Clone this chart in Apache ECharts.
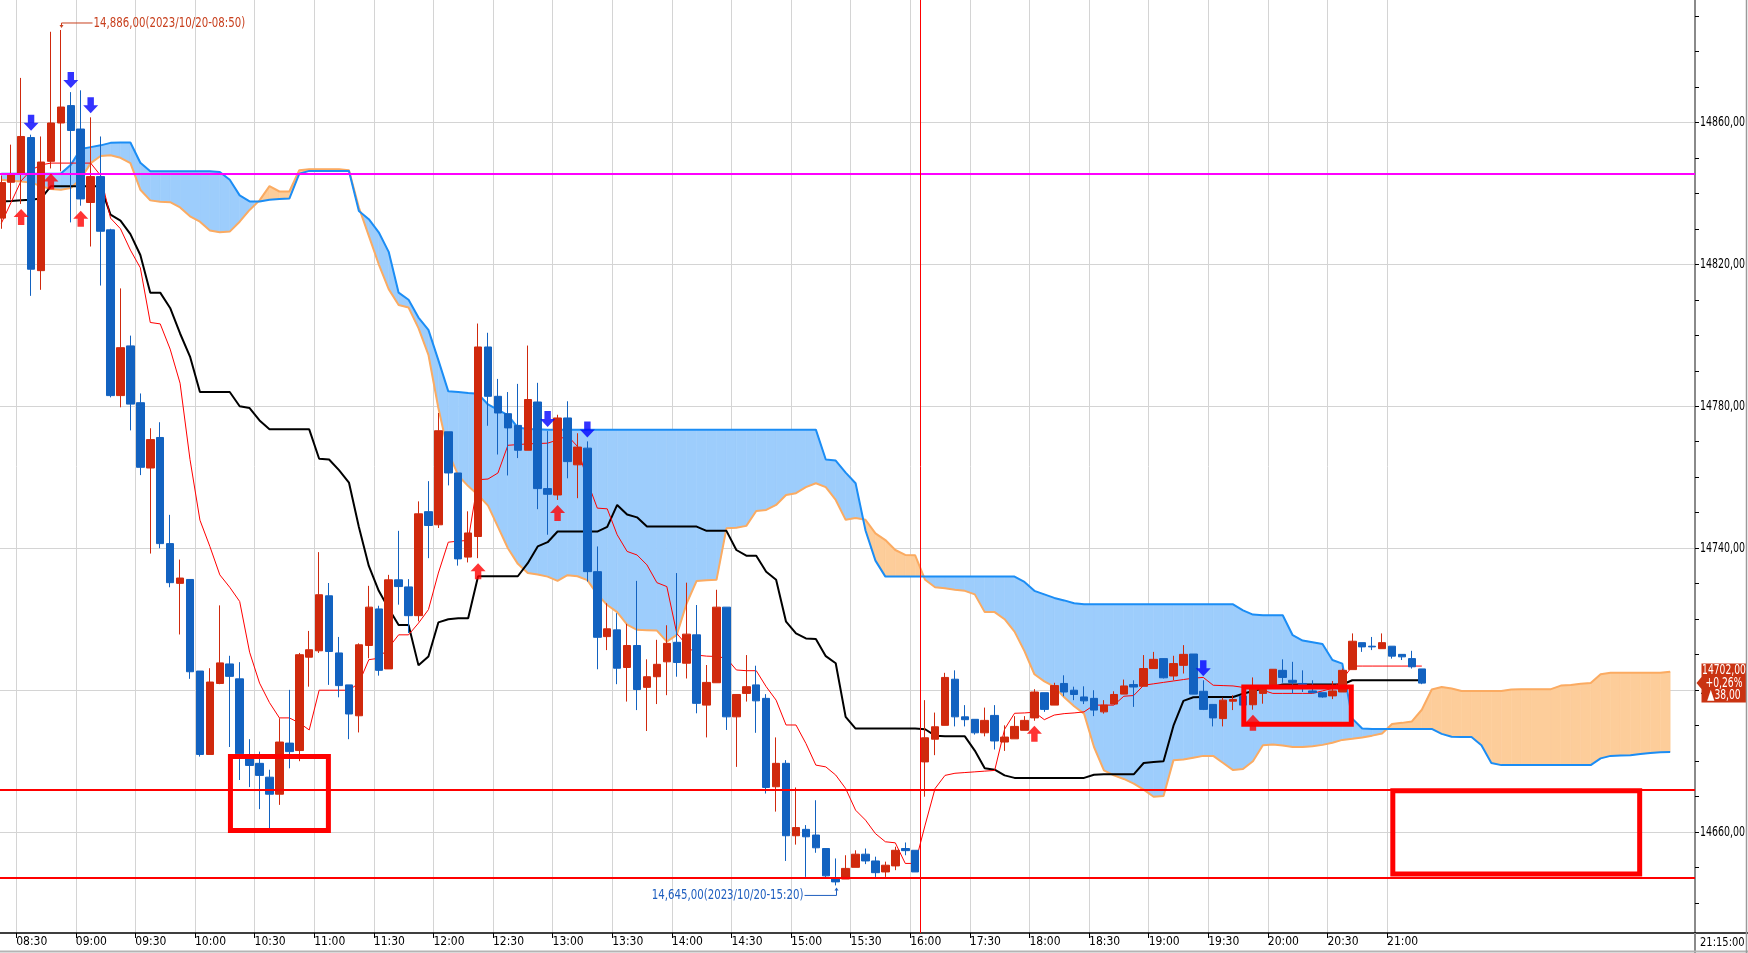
<!DOCTYPE html>
<html>
<head>
<meta charset="utf-8">
<title>Ichimoku 5min</title>
<script src="https://cdn.jsdelivr.net/npm/echarts@6/dist/echarts.min.js"></script>
<style>
    html, body { margin: 0; padding: 0; background: #ffffff; }
    #chart { width: 1748px; height: 953px; }
</style>
</head>
<body>
<div id="chart"></div>
<script>
// session layout: day bars then night bars, 5 minutes each (last ones are cloud projection only)
const sessions = [
    { start: "08:20", bars: 93 },
    { start: "17:05", bars: 78 },
];

const tickLabels = [
    "08:30", "09:00", "09:30", "10:00", "10:30", "11:00", "11:30", "12:00",
    "12:30", "13:00", "13:30", "14:00", "14:30", "15:00", "15:30", "16:00",
    "17:30", "18:00", "18:30", "19:00", "19:30", "20:00", "20:30", "21:00",
];
const firstTickBar = 2;
const barsPerTick = 6;

const priceLabels = [14660, 14700, 14740, 14780, 14820, 14860];

// [open, close, low, high]
const candles = [
    [14833.0, 14843.0, 14830.0, 14845.0], [14843.1, 14845.5, 14838.2, 14853.7], [14845.5, 14856.0, 14837.0, 14872.5],
    [14855.7, 14818.6, 14811.1, 14856.5], [14818.2, 14848.8, 14812.8, 14856.0], [14849.0, 14859.8, 14847.0, 14885.5],
    [14859.8, 14864.3, 14846.2, 14886.0], [14864.7, 14857.7, 14831.8, 14868.5], [14858.1, 14838.4, 14836.5, 14869.0],
    [14837.4, 14844.7, 14825.0, 14861.4], [14844.7, 14829.3, 14814.0, 14856.0], [14829.7, 14783.0, 14782.5, 14830.0],
    [14783.0, 14796.5, 14779.7, 14813.2], [14797.0, 14780.6, 14773.2, 14799.9], [14781.0, 14762.8, 14760.6, 14783.6],
    [14762.6, 14770.6, 14738.5, 14773.8], [14771.2, 14741.3, 14740.0, 14775.5], [14741.3, 14730.3, 14729.0, 14749.4],
    [14730.1, 14731.6, 14715.7, 14736.8], [14731.2, 14705.2, 14703.2, 14731.2], [14705.4, 14681.9, 14681.3, 14705.4],
    [14681.9, 14702.3, 14681.9, 14706.2], [14701.9, 14707.7, 14701.7, 14723.9], [14707.4, 14703.9, 14684.0, 14709.7],
    [14703.2, 14682.1, 14674.7, 14707.9], [14680.7, 14678.8, 14672.7, 14686.2], [14679.4, 14676.0, 14666.5, 14682.7],
    [14675.5, 14670.7, 14661.0, 14677.6], [14670.7, 14685.4, 14667.7, 14692.1], [14685.1, 14682.7, 14678.0, 14700.1],
    [14683.0, 14710.0, 14680.0, 14710.5], [14709.3, 14711.4, 14701.0, 14716.7], [14711.1, 14726.9, 14710.5, 14738.9],
    [14726.6, 14710.9, 14701.5, 14730.2], [14710.5, 14701.3, 14698.0, 14715.0], [14701.5, 14693.3, 14686.2, 14701.5],
    [14692.8, 14712.8, 14688.1, 14713.2], [14712.6, 14723.4, 14709.0, 14729.4], [14722.9, 14705.6, 14704.1, 14723.8],
    [14706.0, 14731.1, 14706.0, 14732.5], [14731.1, 14729.2, 14724.1, 14744.9], [14729.1, 14721.0, 14716.1, 14731.3],
    [14721.0, 14749.7, 14719.4, 14753.2], [14750.3, 14746.4, 14737.2, 14758.9], [14746.6, 14773.1, 14745.7, 14778.1],
    [14772.8, 14761.2, 14757.7, 14772.8], [14761.2, 14737.0, 14735.1, 14761.2], [14737.5, 14744.3, 14736.0, 14750.4],
    [14743.3, 14796.7, 14737.2, 14803.3], [14796.7, 14782.8, 14774.5, 14800.7], [14782.8, 14778.1, 14766.4, 14787.7],
    [14777.9, 14773.9, 14760.5, 14784.0], [14774.6, 14767.6, 14765.4, 14786.3], [14767.6, 14781.9, 14767.6, 14797.1],
    [14781.2, 14756.8, 14751.0, 14786.6], [14756.8, 14755.2, 14743.8, 14773.0], [14755.0, 14776.7, 14753.6, 14777.6],
    [14776.7, 14764.4, 14759.7, 14781.4], [14763.5, 14768.5, 14754.1, 14772.4], [14768.2, 14733.4, 14730.6, 14770.1],
    [14733.4, 14714.9, 14705.9, 14740.5], [14715.1, 14717.3, 14711.3, 14724.5], [14717.0, 14706.2, 14701.7, 14721.7],
    [14706.4, 14712.6, 14696.8, 14718.7], [14712.6, 14700.2, 14694.4, 14730.8], [14700.8, 14703.8, 14688.5, 14708.7],
    [14703.8, 14707.3, 14696.1, 14714.2], [14708.0, 14713.2, 14698.6, 14718.3], [14713.5, 14707.8, 14703.8, 14733.0],
    [14707.6, 14715.8, 14703.3, 14730.3], [14715.6, 14696.3, 14693.5, 14724.0], [14695.8, 14702.2, 14686.7, 14707.1],
    [14702.1, 14723.4, 14702.1, 14728.3], [14723.4, 14692.5, 14688.8, 14723.4], [14692.5, 14698.8, 14678.4, 14698.8],
    [14699.1, 14701.0, 14696.8, 14709.9], [14701.5, 14697.0, 14688.0, 14706.9], [14697.7, 14672.6, 14670.9, 14698.9],
    [14672.8, 14679.4, 14665.8, 14686.7], [14679.4, 14659.0, 14651.9, 14680.3], [14659.0, 14661.3, 14656.5, 14672.6],
    [14660.8, 14658.7, 14647.4, 14662.0], [14659.2, 14655.6, 14654.2, 14669.0], [14655.4, 14647.7, 14647.4, 14655.4],
    [14646.8, 14646.0, 14645.0, 14652.6], [14646.8, 14649.8, 14646.8, 14653.5], [14650.1, 14653.8, 14650.1, 14654.9],
    [14653.8, 14651.9, 14651.0, 14655.4], [14651.9, 14648.6, 14647.4, 14653.1], [14648.8, 14650.7, 14647.4, 14651.7],
    [14650.5, 14654.9, 14649.3, 14655.9], [14655.4, 14654.8, 14653.5, 14657.1], [14654.9, 14648.8, 14648.8, 14654.9],
    [14679.8, 14686.6, 14670.0, 14697.2], [14686.2, 14689.7, 14681.7, 14693.7], [14690.1, 14703.6, 14690.1, 14704.9],
    [14703.1, 14692.5, 14689.8, 14705.6], [14692.5, 14691.7, 14689.8, 14695.8], [14691.8, 14688.0, 14687.5, 14691.8],
    [14688.0, 14691.5, 14687.0, 14695.1], [14692.9, 14685.7, 14683.3, 14695.8], [14685.4, 14686.8, 14682.9, 14690.1],
    [14686.3, 14689.8, 14686.3, 14692.7], [14688.7, 14691.5, 14688.7, 14692.7], [14692.2, 14699.5, 14691.4, 14700.3],
    [14699.3, 14694.6, 14693.9, 14699.3], [14695.8, 14701.3, 14695.8, 14702.1], [14701.9, 14699.5, 14698.3, 14704.2],
    [14700.0, 14698.8, 14697.2, 14701.0], [14698.1, 14697.0, 14696.1, 14701.1], [14697.7, 14694.4, 14692.7, 14700.0],
    [14693.9, 14695.8, 14693.4, 14697.2], [14696.1, 14698.8, 14696.1, 14699.7], [14698.9, 14701.2, 14698.9, 14703.0],
    [14701.6, 14700.9, 14695.3, 14702.8], [14701.1, 14706.1, 14701.1, 14709.9], [14706.1, 14708.7, 14706.0, 14710.8],
    [14708.9, 14703.5, 14703.3, 14708.9], [14704.0, 14707.5, 14702.8, 14709.7], [14707.0, 14710.1, 14704.7, 14712.7],
    [14710.2, 14698.9, 14698.9, 14710.2], [14699.7, 14694.6, 14694.4, 14702.8], [14696.0, 14692.2, 14689.8, 14696.0],
    [14692.0, 14697.2, 14689.8, 14697.9], [14696.9, 14697.4, 14694.4, 14698.6], [14698.3, 14695.8, 14695.8, 14698.5],
    [14695.9, 14700.8, 14694.5, 14703.6], [14699.1, 14700.2, 14696.2, 14701.4], [14700.9, 14705.9, 14700.9, 14705.9],
    [14705.6, 14703.6, 14702.1, 14708.7], [14702.8, 14702.2, 14699.1, 14708.0], [14701.9, 14701.2, 14699.5, 14705.6],
    [14699.8, 14699.3, 14699.3, 14702.8], [14699.3, 14698.1, 14697.9, 14699.3], [14698.4, 14699.8, 14697.5, 14702.6],
    [14699.5, 14705.6, 14699.5, 14706.1], [14705.8, 14713.8, 14705.8, 14716.0], [14713.4, 14712.2, 14710.8, 14713.4],
    [14712.4, 14712.2, 14711.3, 14715.0], [14711.7, 14713.4, 14711.7, 14716.0], [14712.4, 14709.6, 14708.9, 14712.4],
    [14710.1, 14709.4, 14708.5, 14710.1], [14708.9, 14706.6, 14706.1, 14711.1], [14706.0, 14702.0, 14701.7, 14706.0],
];

const tenkan = [
    14831.5, 14837.5, 14843.5, 14846.5, 14848.0, 14848.5, 14848.5, 14848.5, 14848.5, 14848.5,
    14845.0, 14833.0, 14830.0, 14824.0, 14819.0, 14803.6, 14803.2, 14796.1, 14786.5, 14765.0,
    14747.9, 14740.5, 14732.5, 14729.0, 14725.0, 14710.7, 14702.0, 14696.5, 14692.2, 14692.2,
    14690.8, 14688.8, 14700.0, 14700.0, 14700.0, 14700.0, 14702.0, 14708.6, 14709.0, 14712.0,
    14715.6, 14715.6, 14718.9, 14722.7, 14733.0, 14741.7, 14742.0, 14742.2, 14759.3, 14759.5,
    14761.2, 14769.0, 14769.2, 14769.4, 14769.5, 14769.6, 14770.5, 14771.7, 14768.7, 14758.8,
    14751.3, 14751.1, 14743.8, 14739.1, 14738.1, 14735.3, 14730.3, 14729.2, 14716.0, 14712.7,
    14709.9, 14709.6, 14709.5, 14709.0, 14705.7, 14705.5, 14705.5, 14701.0, 14697.2, 14690.2,
    14690.2, 14685.0, 14678.9, 14678.4, 14676.1, 14672.3, 14666.2, 14663.4, 14659.6, 14657.3,
    14657.0, 14651.2, 14651.2, 14662.0, 14672.3, 14676.0, 14676.6, 14676.8, 14677.0, 14677.2,
    14677.4, 14689.0, 14693.5, 14693.6, 14693.8, 14691.7, 14693.0, 14693.4, 14693.6, 14693.9,
    14695.8, 14695.8, 14695.8, 14698.3, 14698.5, 14701.4, 14701.8, 14702.2, 14702.6, 14703.0,
    14703.4, 14703.6, 14701.4, 14701.3, 14701.2, 14700.8, 14700.3, 14700.0, 14699.1, 14699.1,
    14699.1, 14699.1, 14699.1, 14699.8, 14700.5, 14703.0, 14706.8, 14706.8, 14706.8, 14706.8,
    14706.8, 14706.8, 14706.8, 14706.8,
];

const kijun = [
    14837.7, 14837.8, 14838.0, 14838.2, 14838.5, 14842.0, 14842.0, 14842.0, 14842.0, 14842.0,
    14842.0, 14834.0, 14832.3, 14828.5, 14822.6, 14812.0, 14812.0, 14807.7, 14800.5, 14794.0,
    14784.0, 14784.0, 14784.0, 14784.0, 14780.0, 14779.5, 14776.0, 14773.5, 14773.5, 14773.5,
    14773.5, 14773.5, 14765.2, 14765.0, 14762.0, 14758.5, 14746.0, 14735.0, 14728.0, 14723.0,
    14718.4, 14718.4, 14707.0, 14709.5, 14719.1, 14720.0, 14720.3, 14720.3, 14732.1, 14732.1,
    14732.1, 14732.1, 14732.1, 14735.8, 14740.5, 14741.7, 14744.7, 14744.7, 14744.7, 14744.7,
    14744.7, 14746.0, 14752.2, 14749.5, 14748.7, 14746.1, 14746.1, 14746.1, 14746.1, 14746.1,
    14746.1, 14744.9, 14744.9, 14744.9, 14739.5, 14737.9, 14737.9, 14733.4, 14731.1, 14719.3,
    14716.0, 14714.6, 14714.4, 14709.6, 14707.6, 14692.5, 14689.2, 14689.2, 14689.2, 14689.2,
    14689.2, 14689.2, 14689.2, 14689.0, 14687.2, 14687.0, 14687.0, 14687.0, 14683.0, 14678.0,
    14677.6, 14676.0, 14675.3, 14675.3, 14675.3, 14675.3, 14675.3, 14675.3, 14675.3, 14675.3,
    14676.2, 14676.3, 14676.3, 14676.3, 14676.3, 14679.5, 14679.8, 14680.0, 14690.0, 14697.0,
    14698.0, 14698.1, 14698.1, 14698.1, 14698.1, 14699.0, 14699.8, 14700.5, 14701.0, 14701.6,
    14701.6, 14701.6, 14701.6, 14701.6, 14701.6, 14701.6, 14702.8, 14702.8, 14702.8, 14702.8,
    14702.8, 14702.8, 14702.8, 14702.8,
];

// leading spans, already shifted forward (they run 25 bars past the last candle)
const senkouA = [
    14845.5, 14845.5, 14845.5, 14845.5, 14845.5, 14845.5, 14845.6, 14848.0, 14852.5, 14853.0,
    14853.5, 14854.2, 14854.3, 14854.3, 14848.6, 14846.2, 14846.2, 14846.2, 14846.2, 14846.2,
    14846.2, 14846.2, 14846.0, 14843.8, 14839.4, 14837.7, 14837.7, 14838.2, 14838.4, 14838.5,
    14845.5, 14846.3, 14846.3, 14846.3, 14846.3, 14846.3, 14835.0, 14832.7, 14829.0, 14823.5,
    14812.0, 14810.0, 14805.0, 14801.5, 14793.0, 14784.2, 14784.0, 14783.7, 14783.5, 14780.5,
    14779.0, 14777.5, 14774.0, 14773.6, 14773.5, 14773.4, 14773.4, 14773.4, 14773.4, 14773.4,
    14773.4, 14773.4, 14773.4, 14773.4, 14773.4, 14773.4, 14773.4, 14773.4, 14773.4, 14773.4,
    14773.4, 14773.4, 14773.4, 14773.4, 14773.4, 14773.4, 14773.4, 14773.4, 14773.4, 14773.4,
    14773.4, 14773.4, 14773.4, 14765.0, 14764.7, 14761.3, 14758.3, 14745.0, 14736.5, 14732.0,
    14732.0, 14732.0, 14732.0, 14732.0, 14732.0, 14732.0, 14732.0, 14732.0, 14732.0, 14732.0,
    14732.0, 14732.0, 14732.0, 14730.5, 14728.0, 14727.0, 14726.0, 14725.3, 14724.5, 14724.2,
    14724.2, 14724.2, 14724.2, 14724.2, 14724.2, 14724.2, 14724.2, 14724.2, 14724.2, 14724.2,
    14724.2, 14724.2, 14724.2, 14724.2, 14724.2, 14722.5, 14721.3, 14721.1, 14721.1, 14721.1,
    14715.5, 14714.0, 14713.5, 14713.0, 14708.5, 14707.5, 14692.0, 14689.2, 14689.1, 14689.1,
    14689.1, 14689.1, 14689.1, 14689.1, 14689.1, 14687.7, 14686.9, 14686.8, 14686.8, 14684.5,
    14679.5, 14678.9, 14678.9, 14678.9, 14678.9, 14678.9, 14678.9, 14678.9, 14678.9, 14678.9,
    14678.9, 14680.8, 14681.5, 14681.6, 14681.7, 14682.0, 14682.3, 14682.5, 14682.6,
];

const senkouB = [
    14843.8, 14843.5, 14843.3, 14843.0, 14842.0, 14841.2, 14841.0, 14841.5, 14844.0, 14848.5,
    14850.5, 14850.7, 14850.0, 14848.5, 14841.0, 14838.0, 14837.6, 14837.5, 14836.0, 14833.5,
    14832.0, 14829.5, 14829.0, 14829.2, 14832.0, 14835.3, 14838.0, 14842.0, 14840.5, 14840.5,
    14846.5, 14846.8, 14846.8, 14846.8, 14846.8, 14846.5, 14836.0, 14828.0, 14820.0, 14813.0,
    14808.5, 14807.8, 14802.0, 14794.5, 14779.5, 14767.0, 14760.5, 14757.5, 14755.0, 14752.0,
    14746.0, 14740.0, 14735.6, 14733.0, 14732.6, 14732.0, 14730.8, 14732.4, 14732.1, 14731.0,
    14727.0, 14724.0, 14722.0, 14718.5, 14717.0, 14716.9, 14716.8, 14713.7, 14715.6, 14724.5,
    14730.8, 14731.0, 14731.1, 14745.6, 14745.8, 14746.3, 14750.5, 14750.8, 14752.2, 14755.0,
    14755.5, 14757.2, 14758.3, 14757.2, 14753.6, 14748.0, 14748.5, 14748.0, 14744.2, 14742.3,
    14739.5, 14738.1, 14738.0, 14731.1, 14729.0, 14728.7, 14728.3, 14728.0, 14727.0, 14722.0,
    14722.0, 14720.0, 14716.5, 14711.0, 14704.5, 14702.5, 14701.0, 14698.0, 14695.5, 14693.4,
    14684.0, 14677.4, 14676.0, 14675.0, 14673.7, 14672.0, 14670.0, 14670.2, 14680.3, 14680.5,
    14681.0, 14681.5, 14681.5, 14679.5, 14677.5, 14677.8, 14680.0, 14684.5, 14684.7, 14684.4,
    14684.0, 14684.0, 14684.2, 14684.6, 14685.2, 14686.0, 14686.3, 14686.7, 14687.2, 14687.8,
    14690.5, 14690.8, 14691.2, 14694.5, 14700.2, 14700.9, 14700.5, 14699.8, 14699.8, 14699.8,
    14699.8, 14699.8, 14700.2, 14700.3, 14700.3, 14700.3, 14700.3, 14701.3, 14701.5, 14701.8,
    14702.0, 14704.5, 14704.9, 14704.9, 14704.9, 14704.9, 14704.9, 14704.9, 14705.2,
];

const upSignals = [2, 5, 8, 48, 56, 104, 126];
const downSignals = [3, 7, 9, 55, 59, 121];

const magentaLevel = 14845.4;
const redLevels = [14672.0, 14647.3];
const sessionBreak = 93;

// boxes on the bar scale: [fromBar, toBar, topPrice, bottomPrice]
const boxes = [
    [23.57, 33.43, 14681.3, 14660.5],
    [125.58, 136.4, 14700.9, 14690.4],
    [140.58, 165.43, 14671.7, 14648.2],
];

// [bar, price, text, kind]
const notes = [
    [6, 14886, "14,886,00(2023/10/20-08:50)", "high"],
    [84, 14645, "14,645,00(2023/10/20-15:20)", "low"],
];

const lastClose = 14702;
const change = 38;
const changePct = 0.26;

const FONT = "'Liberation Sans Narrow', 'DejaVu Sans Condensed', sans-serif";
const RED = "#d0290d";
const BLUE = "#1262c0";
const CLOUD_UP = "#9dcdfc";
const CLOUD_DN = "#fdcd9a";
const LINE_A = "#1b8df5";
const LINE_B = "#fbab62";
const Y_MIN = 14631.6;
const Y_MAX = 14894.45;

function buildTimes(list) {
    const out = [];
    list.forEach((s) => {
        let [h, m] = s.start.split(":").map(Number);
        for (let i = 0; i < s.bars; i++) {
            out.push(String(h).padStart(2, "0") + ":" + String(m).padStart(2, "0"));
            m += 5;
            if (m >= 60) { m -= 60; h += 1; }
        }
    });
    return out;
}

const comma = (v) => v.toFixed(2).replace(".", ",");

const times = buildTimes(sessions);
const tickPos = tickLabels.map((_, i) => firstTickBar + i * barsPerTick);
const priceTicks = [];
for (let v = 14640; v <= 14890; v += 10) priceTicks.push(v);

const cloudSegments = [];
for (let i = 0; i < senkouA.length - 1; i++) {
    cloudSegments.push([i, senkouA[i], senkouB[i], senkouA[i + 1], senkouB[i + 1]]);
}

const lastIndex = candles.length - 1;

// the original uses a tall narrow bitmap font, so texts get squeezed horizontally
function narrowText(x, y, text, opts) {
    return {
        type: "text",
        x: x,
        y: y,
        scaleX: opts.squeeze,
        style: {
            x: 0,
            y: 0,
            text: text,
            fill: opts.color,
            font: opts.size + "px " + FONT,
            textAlign: opts.align,
            textVerticalAlign: "middle",
        },
    };
}

function renderCloud(params, api) {
    const i = api.value(0);
    const a0 = api.value(1), b0 = api.value(2), a1 = api.value(3), b1 = api.value(4);
    const pA0 = api.coord([i, a0]), pB0 = api.coord([i, b0]);
    const pA1 = api.coord([i + 1, a1]), pB1 = api.coord([i + 1, b1]);
    const d0 = a0 - b0, d1 = a1 - b1;
    const polys = [];
    if (d0 * d1 >= 0) {
        polys.push({ pts: [pA0, pA1, pB1, pB0], color: d0 + d1 >= 0 ? CLOUD_UP : CLOUD_DN });
    } else {
        const t = d0 / (d0 - d1);
        const px = [pA0[0] + t * (pA1[0] - pA0[0]), pA0[1] + t * (pA1[1] - pA0[1])];
        polys.push({ pts: [pA0, px, pB0], color: d0 > 0 ? CLOUD_UP : CLOUD_DN });
        polys.push({ pts: [px, pA1, pB1], color: d1 > 0 ? CLOUD_UP : CLOUD_DN });
    }
    return {
        type: "group",
        children: polys.map((p) => ({
            type: "polygon",
            shape: { points: p.pts },
            style: { fill: p.color, stroke: p.color, lineWidth: 0.6 },
        })),
    };
}

function renderBox(params, api) {
    const p0 = api.coord([api.value(0), api.value(2)]);
    const p1 = api.coord([api.value(1), api.value(3)]);
    return {
        type: "rect",
        shape: { x: p0[0], y: p0[1], width: p1[0] - p0[0], height: p1[1] - p0[1] },
        style: { fill: "none", stroke: "#ff0000", lineWidth: 5 },
    };
}

function renderNote(params, api) {
    const n = notes[params.dataIndex];
    const p = api.coord([api.value(0), api.value(1)]);
    const x = Math.round(p[0]) + 0.5;
    const y = p[1];
    if (n[3] === "high") {
        const color = "#c8401e";
        return {
            type: "group",
            children: [
                { type: "polyline", shape: { points: [[x, y - 3], [x, y - 7], [x + 31, y - 7]] }, style: { stroke: color, lineWidth: 1, fill: null } },
                { type: "polygon", shape: { points: [[x - 2, y - 5], [x + 2, y - 5], [x, y - 2]] }, style: { fill: color } },
                narrowText(x + 32, y - 7, n[2], { color: color, size: 14, squeeze: 0.81, align: "left" }),
            ],
        };
    }
    const color = "#1f5fbf";
    return {
        type: "group",
        children: [
            { type: "polyline", shape: { points: [[x, y + 3], [x, y + 10], [x - 32, y + 10]] }, style: { stroke: color, lineWidth: 1, fill: null } },
            { type: "polygon", shape: { points: [[x - 2, y + 5], [x + 2, y + 5], [x, y + 2]] }, style: { fill: color } },
            narrowText(x - 33, y + 10, n[2], { color: color, size: 14, squeeze: 0.81, align: "right" }),
        ],
    };
}

function renderPriceLabel(params, api) {
    const v = api.value(1);
    const y = api.coord([api.value(0), v])[1];
    const x = params.coordSys.x + params.coordSys.width + 5;
    return narrowText(x, y, comma(v), { color: "#000000", size: 14, squeeze: 0.75, align: "left" });
}

function renderBadge(params, api) {
    const y = api.coord([api.value(0), api.value(1)])[1];
    const xr = params.coordSys.x + params.coordSys.width;
    const opts = { color: "#ffffff", size: 14, squeeze: 0.73, align: "center" };
    return {
        type: "group",
        children: [
            {
                type: "polygon",
                shape: { points: [[xr + 1.5, y], [xr + 6.5, y - 6], [xr + 6.5, y - 19.5], [xr + 52, y - 19.5], [xr + 52, y + 19.5], [xr + 6.5, y + 19.5], [xr + 6.5, y + 6]] },
                style: { fill: "#c93312" },
            },
            narrowText(xr + 29, y - 12.5, comma(lastClose), opts),
            narrowText(xr + 29, y, "+" + comma(changePct) + "%", opts),
            narrowText(xr + 29, y + 12.5, "\u25B2" + comma(change), opts),
        ],
    };
}

const UP_ARROW = "path://M7,0L14,8H10V16H4V8H0Z";
const DOWN_ARROW = "path://M4,0H10V8H14L7,16L0,8H4Z";

const chart = echarts.init(document.getElementById("chart"), null, { renderer: "canvas" });

const option = {
    animation: false,
    backgroundColor: "#ffffff",
    grid: { left: -3.7, right: 53, top: 0, bottom: 20, containLabel: false, outerBoundsMode: "none" },
    xAxis: [
        { type: "category", data: times, boundaryGap: true, show: false },
        {
            type: "value",
            min: 0,
            max: times.length,
            position: "bottom",
            axisLine: { show: true, onZero: false, lineStyle: { color: "#000000", width: 1.5 } },
            axisTick: { show: true, customValues: tickPos, length: 5, lineStyle: { color: "#000000" } },
            axisLabel: {
                show: true,
                customValues: tickPos,
                formatter: (v) => tickLabels[Math.round((v - firstTickBar) / barsPerTick)] || "",
                align: "left",
                margin: 3,
                color: "#000000",
                fontFamily: FONT,
                fontSize: 12,
            },
            splitLine: { show: true, lineStyle: { color: "#d4d4d4", width: 1 } },
        },
    ],
    yAxis: [
        {
            type: "value",
            min: Y_MIN,
            max: Y_MAX,
            position: "right",
            axisLine: { show: true, onZero: false, lineStyle: { color: "#8a8a8a", width: 2 } },
            axisTick: { show: true, customValues: priceTicks, length: 4, lineStyle: { color: "#000000" } },
            axisLabel: { show: false },
            splitLine: { show: false },
        },
        {
            type: "value",
            min: Y_MIN,
            max: Y_MAX,
            position: "right",
            axisLine: { show: false },
            axisTick: { show: false, customValues: priceLabels },
            axisLabel: { show: false },
            splitLine: { show: true, lineStyle: { color: "#d4d4d4", width: 1 } },
        },
    ],
    series: [
        {
            name: "cloud", type: "custom", xAxisIndex: 0, yAxisIndex: 0, z: 1, silent: true, clip: true,
            encode: { x: 0, y: [1, 2, 3, 4] }, data: cloudSegments, renderItem: renderCloud,
        },
        {
            name: "senkouB", type: "line", data: senkouB, symbol: "none", z: 2, silent: true,
            lineStyle: { color: LINE_B, width: 2 },
        },
        {
            name: "senkouA", type: "line", data: senkouA, symbol: "none", z: 2, silent: true,
            lineStyle: { color: LINE_A, width: 2 },
        },
        {
            name: "kijun", type: "line", data: kijun, symbol: "none", z: 3, silent: true,
            lineStyle: { color: "#000000", width: 2 },
        },
        {
            name: "tenkan", type: "line", data: tenkan, symbol: "none", z: 3, silent: true,
            lineStyle: { color: "#ff0000", width: 1 },
        },
        {
            name: "price", type: "candlestick", data: candles, barWidth: 8, z: 4, silent: true,
            itemStyle: { color: RED, color0: BLUE, borderColor: RED, borderColor0: BLUE, borderWidth: 1 },
        },
        {
            name: "buy", type: "scatter", z: 5, silent: true,
            data: upSignals.map((i) => [i, candles[i][2]]),
            symbol: UP_ARROW, symbolSize: [15, 16], symbolOffset: [0, 13],
            itemStyle: { color: "#ff0000" },
        },
        {
            name: "sell", type: "scatter", z: 5, silent: true,
            data: downSignals.map((i) => [i, candles[i][3]]),
            symbol: DOWN_ARROW, symbolSize: [15, 16], symbolOffset: [0, -12],
            itemStyle: { color: "#0000ff" },
        },
        {
            name: "levels", type: "line", xAxisIndex: 1, yAxisIndex: 0, data: [], z: 6, silent: true,
            markLine: {
                silent: true,
                symbol: ["none", "none"],
                label: { show: false },
                data: [
                    { yAxis: magentaLevel, lineStyle: { color: "#ff00ff", width: 2, type: "solid" } },
                    ...redLevels.map((v) => ({ yAxis: v, lineStyle: { color: "#ff0000", width: 2, type: "solid" } })),
                    { xAxis: sessionBreak, lineStyle: { color: "#ff0000", width: 1, type: "solid" } },
                ],
            },
        },
        {
            name: "boxes", type: "custom", xAxisIndex: 1, yAxisIndex: 0, z: 7, silent: true,
            encode: { x: [0, 1], y: [2, 3] }, data: boxes, renderItem: renderBox,
        },
        {
            name: "notes", type: "custom", xAxisIndex: 0, yAxisIndex: 0, z: 8, silent: true, clip: false,
            data: notes.map((n) => [n[0], n[1]]), renderItem: renderNote,
        },
        {
            name: "priceScale", type: "custom", xAxisIndex: 0, yAxisIndex: 0, z: 8, silent: true, clip: false,
            data: priceLabels.map((v) => [lastIndex, v]), renderItem: renderPriceLabel,
        },
        {
            name: "badge", type: "custom", xAxisIndex: 0, yAxisIndex: 0, z: 9, silent: true, clip: false,
            data: [[lastIndex, lastClose]], renderItem: renderBadge,
        },
    ],
    graphic: [
        { type: "line", z: 10, shape: { x1: 1695, y1: 933, x2: 1748, y2: 933 }, style: { stroke: "#000000", lineWidth: 1.5 } },
        { type: "line", z: 10, shape: { x1: 1695, y1: 933, x2: 1695, y2: 953 }, style: { stroke: "#8a8a8a", lineWidth: 2 } },
        { type: "line", z: 10, shape: { x1: 0, y1: 951.5, x2: 1748, y2: 951.5 }, style: { stroke: "#b4b4b4", lineWidth: 2 } },
        { type: "line", z: 10, shape: { x1: 1746.5, y1: 0, x2: 1746.5, y2: 953 }, style: { stroke: "#9a9a9a", lineWidth: 1.5 } },
        {
            type: "text", z: 10, x: 1700, y: 943, scaleX: 0.85,
            style: { x: 0, y: 0, text: times[lastIndex] + ":00", fill: "#000000", font: "13px " + FONT, textVerticalAlign: "middle" },
        },
    ],
};

chart.setOption(option);
</script>
</body>
</html>
